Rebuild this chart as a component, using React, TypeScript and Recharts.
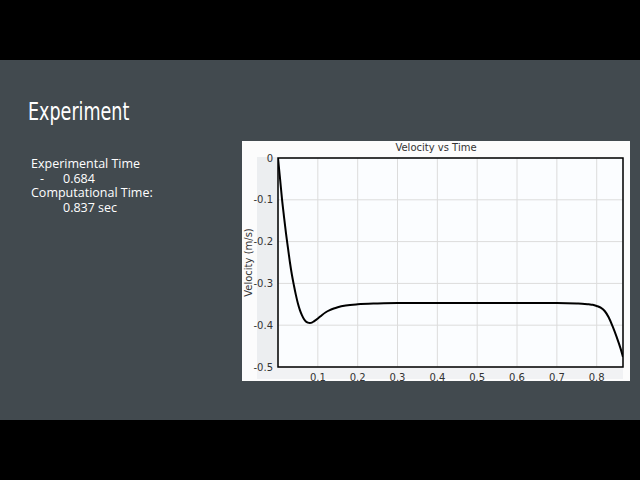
import {
  CartesianGrid,
  Line,
  LineChart,
  ReferenceArea,
  XAxis,
  YAxis,
} from "recharts";

// Velocity (m/s) against time (s).
const TIME = [
  0, 0.005, 0.01, 0.015, 0.02, 0.025, 0.03, 0.035, 0.04, 0.045, 0.05, 0.055,
  0.06, 0.065, 0.07, 0.075, 0.08, 0.085, 0.09, 0.1, 0.11, 0.12, 0.13, 0.14,
  0.15, 0.17, 0.2, 0.25, 0.3, 0.4, 0.5, 0.6, 0.7, 0.75, 0.77, 0.78, 0.79, 0.8,
  0.81, 0.82, 0.83, 0.84, 0.85, 0.86, 0.866,
];
const VELOCITY = [
  0, -0.048, -0.098, -0.14, -0.18, -0.215, -0.25, -0.28, -0.305, -0.328,
  -0.348, -0.364, -0.376, -0.385, -0.391, -0.394, -0.395, -0.394, -0.391,
  -0.384, -0.376, -0.369, -0.364, -0.36, -0.357, -0.353, -0.35, -0.348,
  -0.347, -0.347, -0.347, -0.347, -0.347, -0.348, -0.349, -0.35, -0.351,
  -0.354, -0.358, -0.366, -0.381, -0.403, -0.428, -0.456, -0.476,
];
const X_TICKS = [0.1, 0.2, 0.3, 0.4, 0.5, 0.6, 0.7, 0.8];
const Y_TICKS = [0, -0.1, -0.2, -0.3, -0.4, -0.5];
const X_MAX = 0.866;

// note block on the left of the slide: [text, indent] per row
const NOTE_ROWS = [
  [["Experimental Time", 0]],
  [["-", 9], ["0.684", 32]],
  [["Computational Time:", 0]],
  [["0.837 sec", 32]],
] as [string, number][][];

const data = TIME.map((t, i) => ({ t, v: VELOCITY[i] }));

const SLIDE = "#424a4f";
const INK = "#333";
const tickStyle = { fill: INK, fontSize: 10, fontFamily: "Verdana, DejaVu Sans, sans-serif" };

export default function App() {
  return (
    <div
      style={{
        position: "fixed",
        left: 0,
        top: 0,
        width: 640,
        height: 480,
        background: "#000",
        overflow: "hidden",
      }}
    >
      <div
        style={{
          position: "absolute",
          left: 0,
          top: 60,
          width: 640,
          height: 360,
          background: SLIDE,
        }}
      />

      <div
        style={{
          position: "absolute",
          left: 28,
          top: 97,
          fontFamily: "'DejaVu Sans Condensed', 'DejaVu Sans', sans-serif",
          fontSize: 25,
          lineHeight: "30px",
          color: "#fff",
          transform: "scaleX(0.78)",
          transformOrigin: "left",
          whiteSpace: "nowrap",
        }}
      >
        Experiment
      </div>

      {NOTE_ROWS.map((row, r) => (
        <div
          key={r}
          style={{
            position: "absolute",
            left: 31,
            top: 157 + r * 14.7,
            height: 14,
            width: 200,
            fontFamily: "'Open Sans', sans-serif",
            fontSize: 12.5,
            lineHeight: "14px",
            color: "#fff",
          }}
        >
          {row.map(([text, indent]) => (
            <span key={text} style={{ position: "absolute", left: indent, whiteSpace: "nowrap" }}>
              {text}
            </span>
          ))}
        </div>
      ))}

      {/* chart image backdrop */}
      <div
        style={{
          position: "absolute",
          left: 242,
          top: 141,
          width: 388,
          height: 240,
          background: "#fcfcfc",
        }}
      />
      <div
        style={{
          position: "absolute",
          left: 257,
          top: 157,
          width: 21,
          height: 222,
          background: "#eceef0",
        }}
      />
      <div
        style={{
          position: "absolute",
          left: 257,
          top: 367,
          width: 366,
          height: 12,
          background: "#f1f2f4",
        }}
      />
      <div
        style={{
          position: "absolute",
          left: 242,
          top: 142,
          width: 388,
          textAlign: "center",
          fontFamily: "Verdana, DejaVu Sans, sans-serif",
          fontSize: 10,
          color: INK,
        }}
      >
        Velocity vs Time
      </div>

      <div style={{ position: "absolute", left: 242, top: 141 }}>
        <LineChart
          width={388}
          height={246}
          data={data}
          margin={{ top: 17, right: 7, bottom: 6, left: 15 }}
        >
          <CartesianGrid stroke="#dcdcdc" strokeWidth={1} fill="#fbfdff" />
          <XAxis
            dataKey="t"
            type="number"
            domain={[0, X_MAX]}
            ticks={X_TICKS}
            allowDataOverflow
            height={14}
            tickLine={false}
            tickSize={5}
            axisLine={false}
            tick={tickStyle}
            interval={0}
          />
          <YAxis
            type="number"
            domain={[-0.5, 0]}
            ticks={Y_TICKS}
            allowDataOverflow
            width={21}
            tickLine={false}
            tickSize={3}
            axisLine={false}
            tick={tickStyle}
            interval={0}
            label={{
              value: "Velocity (m/s)",
              angle: -90,
              position: "insideLeft",
              dx: -14,
              style: { ...tickStyle, textAnchor: "middle" },
            }}
          />
          <ReferenceArea
            x1={0}
            x2={X_MAX}
            y1={-0.5}
            y2={0}
            fill="none"
            stroke="#000"
            strokeWidth={1.5}
            ifOverflow="visible"
          />
          <Line
            type="monotone"
            dataKey="v"
            stroke="#000"
            strokeWidth={2}
            dot={false}
            isAnimationActive={false}
          />
        </LineChart>
      </div>
    </div>
  );
}
